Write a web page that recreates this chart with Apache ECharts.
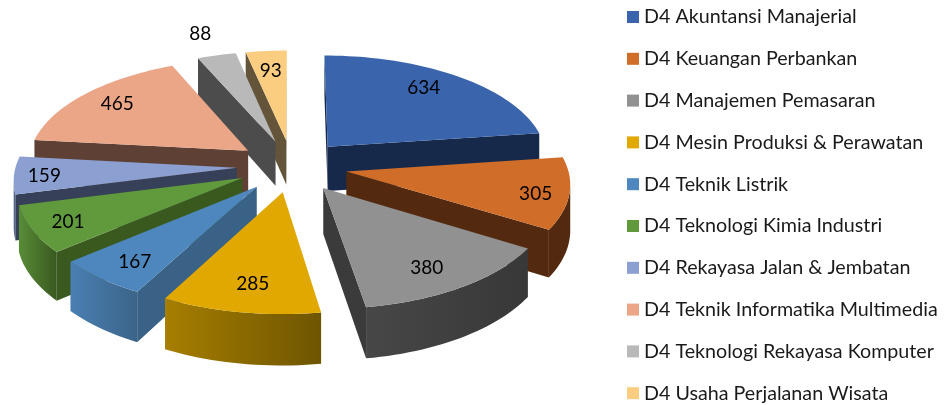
<!DOCTYPE html>
<html>
<head>
<meta charset="utf-8">
<style>
  html, body { margin: 0; background: #fff; }
  #chart { width: 949px; height: 405px; }
</style>
<script src="https://cdn.jsdelivr.net/npm/echarts@6/dist/echarts.min.js"></script>
</head>
<body>
<div id="chart"></div>
<script>
const categories = [
  'D4 Akuntansi Manajerial', 'D4 Keuangan Perbankan', 'D4 Manajemen Pemasaran',
  'D4 Mesin Produksi & Perawatan', 'D4 Teknik Listrik', 'D4 Teknologi Kimia Industri',
  'D4 Rekayasa Jalan & Jembatan', 'D4 Teknik Informatika Multimedia',
  'D4 Teknologi Rekayasa Komputer', 'D4 Usaha Perjalanan Wisata'
]
const values = [634, 305, 380, 285, 167, 201, 159, 465, 88, 93]

const topColors = ['#3a65ad', '#d06d28', '#919191', '#e0a800', '#4d87bd', '#619a3c', '#8b9fd0', '#eba587', '#b9b9b9', '#fbcd80']
const radialColors = ['#17294a', '#532a0f', '#3b3b3b', '#6e5500', '#3a6186', '#39591f', '#364058', '#5f4035', '#4c4c4c', '#64553a']
const wallLeft = ['#17294a', '#532a0f', '#474747', '#a67e00', '#4a7fb3', '#588c37', '#5f6f98', '#8a5a48', '#6a6a6a', '#8a7448']
const wallRight = ['#17294a', '#532a0f', '#383838', '#6e5500', '#3b6488', '#39591f', '#4a5a80', '#5f4035', '#4c4c4c', '#64553a']
// back to front
const drawOrder = [0, 9, 8, 7, 1, 6, 5, 4, 2, 3]
// label distance along the mid angle in radius units, then a pixel nudge
const labelDist = [0.70, 0.86, 0.82, 0.77, 0.83, 0.89, 0.86, 0.78, 1.14, 0.76]
const labelNudgeX = [3, -2, -9, 2, 6, 12, -1, -2, -9, 0]
const labelNudgeY = [-9, 3, 0, 2, 0, -2, 2, -2, -11, 0]

// projection of the tilted pie
const cx = 292, cy = 166, ax = 221, ay = 104, persp = 0.1, depth = 45, explode = 0.25

const total = values.reduce((a, b) => a + b, 0)
const angleAt = (i) => values.slice(0, i).reduce((a, b) => a + b, 0) / total * Math.PI * 2

const project = (x, y, down) => {
  const k = 1 / (1 - persp * y)
  return [cx + ax * x * k, cy + ay * y * k + (down ? depth * k : 0)]
}

const renderSlice = (i) => (params, api) => {
  const start = angleAt(i)
  const end = start + api.value(0) / total * Math.PI * 2
  const mid = (start + end) / 2
  const ox = explode * Math.sin(mid), oy = -explode * Math.cos(mid)
  const pt = (r, t, down) => project(ox + r * Math.sin(t), oy - r * Math.cos(t), down)

  const apex = pt(0, 0), apexLow = pt(0, 0, true)
  const steps = Math.max(4, Math.ceil((end - start) / 0.03))
  const rimAngles = []
  for (let s = 0; s <= steps; s++) rimAngles.push(start + (end - start) * s / steps)
  const rim = rimAngles.map((t) => pt(1, t))
  const midRim = pt(1, mid)
  const children = []

  // outer wall, only where it turns towards the viewer
  const front = rimAngles.filter((t) => pt(1, t + 0.01)[0] < pt(1, t)[0])
  if (front.length > 1) {
    const wall = front.map((t) => pt(1, t)).concat(front.slice().reverse().map((t) => pt(1, t, true)))
    children.push({
      type: 'polygon',
      shape: { points: wall },
      style: {
        fill: new echarts.graphic.LinearGradient(0, 0, 1, 0, [
          { offset: 0, color: wallLeft[i] },
          { offset: 1, color: wallRight[i] }
        ])
      }
    })
  }

  // radial walls, visible when the top face lies above their edge
  ;[start, end].forEach((t) => {
    const b = pt(1, t), bLow = pt(1, t, true)
    const ex = b[0] - apex[0], ey = b[1] - apex[1]
    const toMid = ex * (midRim[1] - apex[1]) - ey * (midRim[0] - apex[0])
    const toDown = ex
    if (toMid * toDown < 0) {
      children.push({
        type: 'polygon',
        shape: { points: [apex, b, bLow, apexLow] },
        style: { fill: radialColors[i] }
      })
    }
  })

  children.push({
    type: 'polygon',
    shape: { points: [apex].concat(rim) },
    style: { fill: topColors[i] }
  })

  const lp = pt(labelDist[i], mid)
  children.push({
    type: 'text',
    style: {
      text: String(api.value(0)),
      x: lp[0] + labelNudgeX[i], y: lp[1] + labelNudgeY[i],
      align: 'center', verticalAlign: 'middle',
      font: '19px Lato', fill: '#000'
    }
  })
  return { type: 'group', children }
}

const chart = echarts.init(document.getElementById('chart'))
chart.setOption({
  animation: false,
  backgroundColor: '#fff',
  legend: {
    orient: 'vertical',
    left: 627,
    top: 7,
    padding: 0,
    icon: 'rect',
    itemWidth: 12,
    itemHeight: 12,
    itemGap: 21.8,
    selectedMode: false,
    textStyle: { fontFamily: 'Lato', fontSize: 19.7, color: '#1a1a1a' },
    data: categories
  },
  series: categories.map((name, i) => ({
    type: 'custom',
    name,
    coordinateSystem: 'none',
    z: 2 + drawOrder.indexOf(i),
    itemStyle: { color: topColors[i] },
    renderItem: renderSlice(i),
    data: [[values[i]]]
  }))
})
</script>
</body>
</html>
